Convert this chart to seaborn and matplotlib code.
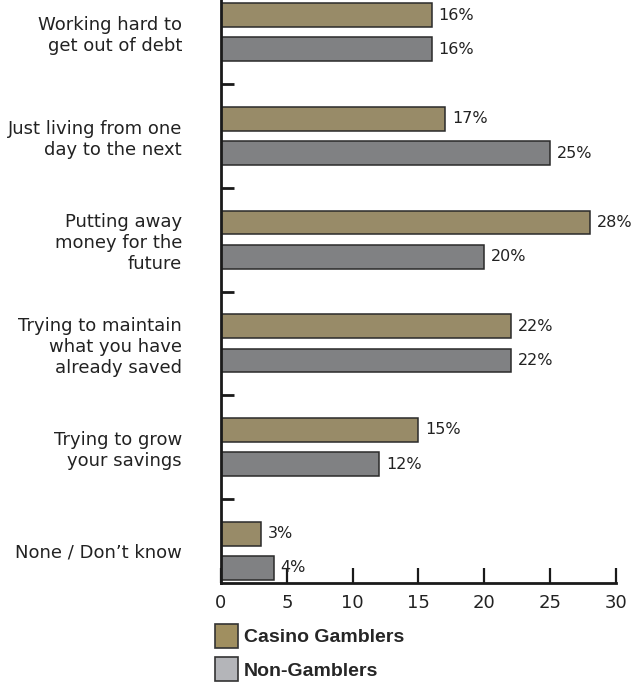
import pandas as pd
import seaborn as sns
import matplotlib.pyplot as plt
from matplotlib.patches import Patch
from matplotlib.ticker import FixedLocator

categories = ["Working hard to\nget out of debt",
              "Just living from one\nday to the next",
              "Putting away\nmoney for the\nfuture",
              "Trying to maintain\nwhat you have\nalready saved",
              "Trying to grow\nyour savings",
              "None / Don\u2019t know"]
casino = [16, 17, 28, 22, 15, 3]
non_gamblers = [16, 25, 20, 22, 12, 4]
groups = ["Casino Gamblers", "Non-Gamblers"]
x_ticks = [0, 5, 10, 15, 20, 25, 30]

gold = "#A08F60"
grey = "#808183"
legend_grey = "#B4B5B9"

df = pd.DataFrame({
    "category": categories * 2,
    "pct": casino + non_gamblers,
    "group": [groups[0]] * len(categories) + [groups[1]] * len(categories),
})

sns.set_style("white")
plt.rcParams["font.family"] = ["DejaVu Sans"]

fig = plt.figure(figsize=(6.37, 6.84), dpi=100)
ax = fig.add_axes([221 / 637, 1 - 583 / 684, 395 / 637, 583 / 684])

sns.barplot(data=df, y="category", x="pct", hue="group", orient="h",
            palette={groups[0]: gold, groups[1]: grey},
            width=0.66, gap=0.3, edgecolor="#2a2a2a", linewidth=1.1,
            legend=False, ax=ax)

for cont in ax.containers:
    ax.bar_label(cont, fmt="%g%%", padding=5, fontsize=11.5, color="#222222")

ax.set_xlim(0, 30)
ax.set_ylim(5.31, -0.31)
ax.set_xticks(x_ticks)
ax.set_xlabel("")
ax.set_ylabel("")
sns.despine(ax=ax, top=True, right=True)
for s in ["left", "bottom"]:
    ax.spines[s].set_linewidth(2)
    ax.spines[s].set_color("#1a1a1a")

ax.tick_params(axis="x", direction="in", bottom=True, length=11, width=1.6,
               color="#1a1a1a", pad=8, labelsize=13, labelcolor="#222222")
ax.yaxis.set_minor_locator(FixedLocator([0.5, 1.5, 2.5, 3.5, 4.5]))
ax.tick_params(axis="y", which="major", length=0, pad=28, labelsize=13,
               labelcolor="#222222")
ax.tick_params(axis="y", which="minor", direction="in", length=9, width=2,
               color="#1a1a1a", left=True)
for lab in ax.get_yticklabels():
    lab.set_multialignment("right")
    lab.set_linespacing(1.2)

handles = [Patch(facecolor=gold, edgecolor="#333333", linewidth=1.2),
           Patch(facecolor=legend_grey, edgecolor="#333333", linewidth=1.2)]
fig.legend(handles, groups, loc="upper left",
           bbox_to_anchor=(215 / 637, 1 - 624 / 684), frameon=False,
           prop={"family": "Liberation Sans", "weight": "bold", "size": 14},
           handlelength=1.2, handleheight=1.5, handletextpad=0.3,
           labelspacing=0.5, borderaxespad=0, borderpad=0)

fig.savefig("out.png", dpi=100)
